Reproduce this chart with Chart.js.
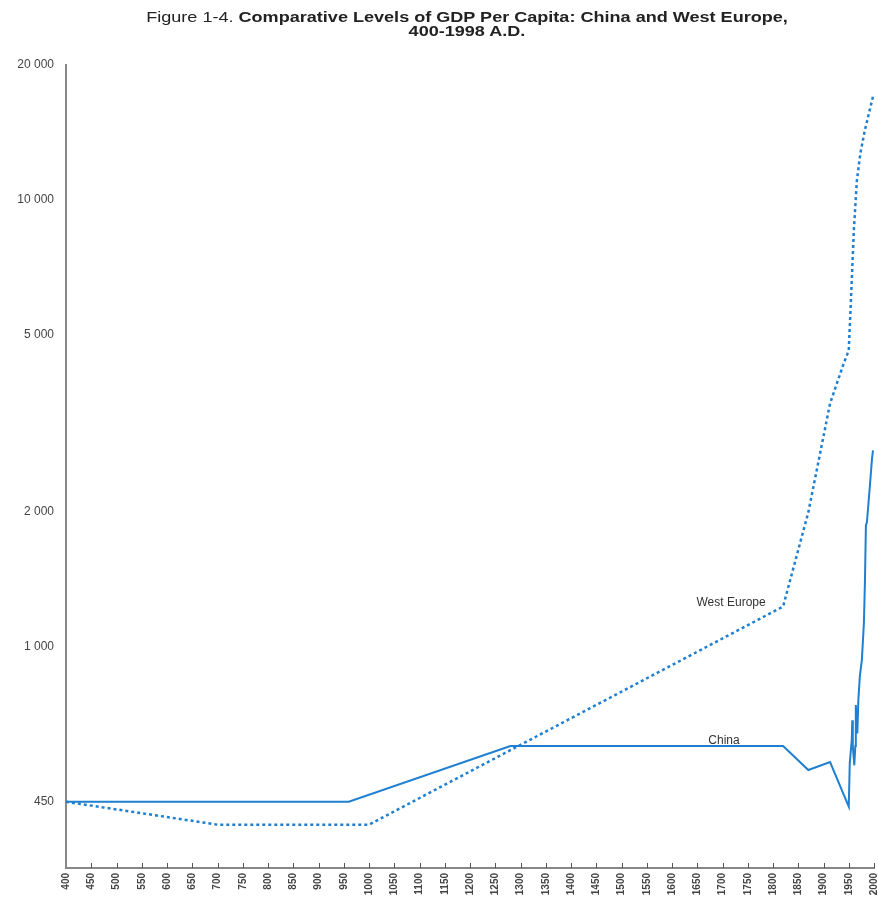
<!DOCTYPE html>
<html>
<head>
<meta charset="utf-8">
<script src="https://cdn.jsdelivr.net/npm/chart.js@4"></script>
<style>
  html, body { margin: 0; padding: 0; background: #fff; }
  #wrap { position: relative; width: 878px; height: 897px; }
  #title {
    position: absolute; top: 10px; left: 28px; width: 878px;
    text-align: center; font-family: "Liberation Sans", Arial, sans-serif;
    font-size: 14px; line-height: 14px; color: #222; font-weight: bold;
    transform: scaleX(1.29); transform-origin: 439px 0;
  }
  #title span { font-weight: normal; }
</style>
</head>
<body>
<div id="wrap">
  <div id="title"><span>Figure 1-4.</span> Comparative Levels of GDP Per Capita: China and West Europe,<br>400-1998 A.D.</div>
  <canvas id="chart" width="878" height="897"></canvas>
</div>
<script>
// years and GDP per capita (1990 int. $)
const chinaYears = [400, 960, 1280, 1820, 1870, 1913, 1950, 1952, 1956, 1957, 1958, 1961, 1963, 1964, 1966, 1967, 1969, 1972, 1976, 1980, 1982, 1984, 1986, 1992, 1996, 1998];
const chinaValues = [450, 450, 600, 600, 530, 552, 439, 549, 620, 685, 600, 543, 600, 741, 665, 640, 760, 860, 935, 1130, 1390, 1870, 1900, 2300, 2630, 2750];
const europeYears = [400, 700, 1000, 1820, 1870, 1913, 1940, 1950, 1953, 1956, 1960, 1966, 1973, 1982, 1990, 1998];
const europeValues = [450, 400, 400, 1230, 2000, 3500, 4300, 4600, 5500, 6600, 8500, 11000, 12700, 14300, 15600, 17000];
const yTicks = [450, 1000, 2000, 5000, 10000, 20000];

const lineColor = '#1f7fd0';

function toPoints(xs, ys) {
    return xs.map((x, i) => ({x: x, y: ys[i]}));
}

// series names written next to the lines
const seriesLabels = {
    id: 'seriesLabels',
    afterDatasetsDraw(chart) {
        const ctx = chart.ctx;
        const xs = chart.scales.x, ys = chart.scales.y;
        ctx.save();
        ctx.font = '12px "Liberation Sans", Arial, sans-serif';
        ctx.fillStyle = '#333';
        ctx.textAlign = 'center';
        ctx.textBaseline = 'middle';
        ctx.fillText('West Europe', xs.getPixelForValue(1717), ys.getPixelForValue(1255));
        ctx.fillText('China', xs.getPixelForValue(1703), ys.getPixelForValue(618));
        ctx.restore();
    }
};

// small tick marks pointing up into the plot, like the original
const innerTicks = {
    id: 'innerTicks',
    afterDraw(chart) {
        const ctx = chart.ctx;
        const xs = chart.scales.x;
        const yb = chart.chartArea.bottom;
        ctx.save();
        ctx.strokeStyle = '#555';
        ctx.lineWidth = 1;
        xs.ticks.forEach(t => {
            if (t.value === xs.min) return;
            const px = Math.round(xs.getPixelForValue(t.value)) + 0.5;
            ctx.beginPath();
            ctx.moveTo(px, yb);
            ctx.lineTo(px, yb - 5);
            ctx.stroke();
        });
        ctx.restore();
    }
};

function initChart() {
    const ctx = document.getElementById('chart').getContext('2d');
    new Chart(ctx, {
        type: 'line',
        data: {
            datasets: [{
                label: 'China',
                data: toPoints(chinaYears, chinaValues),
                borderColor: lineColor,
                borderWidth: 2,
                pointRadius: 0,
                tension: 0
            }, {
                label: 'West Europe',
                data: toPoints(europeYears, europeValues),
                borderColor: lineColor,
                borderWidth: 2.5,
                borderDash: [3, 3],
                pointRadius: 0,
                tension: 0
            }]
        },
        options: {
            responsive: false,
            animation: false,
            layout: { padding: { top: 65, right: 4, left: 0, bottom: 0 } },
            plugins: {
                legend: { display: false },
                tooltip: { enabled: false }
            },
            scales: {
                x: {
                    type: 'linear',
                    min: 400,
                    max: 2000,
                    ticks: {
                        stepSize: 50,
                        minRotation: 90,
                        maxRotation: 90,
                        autoSkip: false,
                        padding: 5,
                        color: '#444',
                        font: { family: '"Liberation Sans Narrow", "Liberation Sans", Arial', size: 10, weight: 'bold' },
                        callback: v => String(v)
                    },
                    grid: { drawOnChartArea: false, drawTicks: false },
                    border: { color: '#888', width: 2 },
                    afterFit(scale) {
                        scale.height = 29;
                        scale.paddingLeft = 0;
                        scale.paddingRight = 0;
                    }
                },
                y: {
                    type: 'logarithmic',
                    min: 320,
                    max: 20000,
                    afterBuildTicks(scale) {
                        scale.ticks = yTicks.map(v => ({value: v}));
                    },
                    ticks: {
                        padding: 12,
                        color: '#444',
                        font: { family: '"Liberation Sans", Arial', size: 12 },
                        callback: v => v.toString().replace(/\B(?=(\d{3})+(?!\d))/g, ' ')
                    },
                    grid: { display: false, drawTicks: false },
                    border: { color: '#888', width: 2 },
                    afterFit(scale) {
                        scale.width = 66;
                        scale.paddingTop = 0;
                        scale.paddingBottom = 0;
                    }
                }
            }
        },
        plugins: [seriesLabels, innerTicks]
    });
}

initChart();
</script>
</body>
</html>
